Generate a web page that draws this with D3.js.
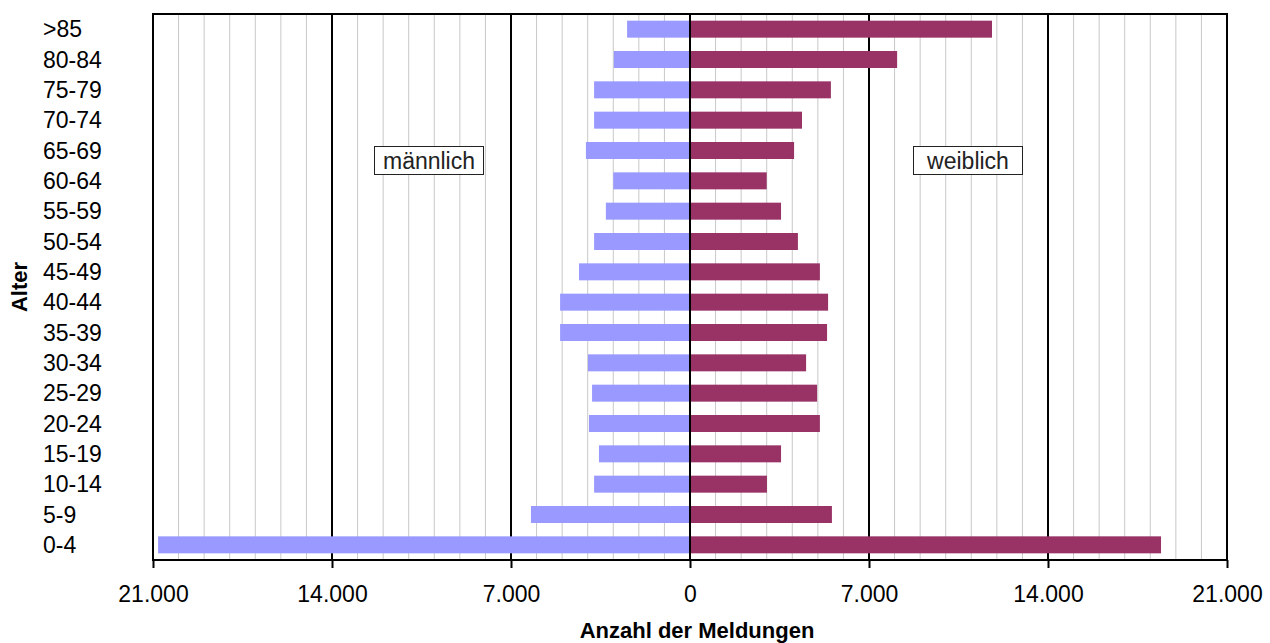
<!DOCTYPE html>
<html><head><meta charset="utf-8">
<script src="https://cdn.jsdelivr.net/npm/d3@7"></script>
<style>body{margin:0;background:#fff}svg{display:block}text{font-family:"Liberation Sans",Arial,sans-serif}</style>
</head><body><svg id="c" width="1270" height="643"></svg>
<script>
const categories = [">85","80-84","75-79","70-74","65-69","60-64","55-59","50-54","45-49","40-44","35-39","30-34","25-29","20-24","15-19","10-14","5-9","0-4"];
const maleValues   = [2460,2980,3750,3750,4070,3000,3290,3750,4340,5080,5080,3990,3830,3950,3560,3750,6220,20800];
const femaleValues = [11810,8100,5510,4380,4070,3000,3560,4220,5080,5400,5360,4540,4970,5080,3560,3010,5550,18420];
const tickValues = [-21000,-14000,-7000,0,7000,14000,21000];
const tickLabels = ["21.000","14.000","7.000","0","7.000","14.000","21.000"];
const seriesLabels = ["männlich","weiblich"];

const svg = d3.select("#c");
const L=153,R=1227,T=14,B=560;
const x = d3.scaleLinear().domain([-21000,21000]).range([L,R]);
const y = d3.scaleBand().domain(categories).range([T,B]).paddingInner(0.44).paddingOuter(0.22);

// minor grid
svg.append("g").selectAll("line").data(d3.range(-20000,21000,1000).filter(v=>v%7000!==0)).join("line")
  .attr("x1",d=>x(d)).attr("x2",d=>x(d)).attr("y1",T).attr("y2",B)
  .attr("stroke","#c8c8c8").attr("stroke-width",1);
// major grid
svg.append("g").selectAll("line").data([-14000,-7000,7000,14000]).join("line")
  .attr("x1",d=>x(d)).attr("x2",d=>x(d)).attr("y1",T).attr("y2",B)
  .attr("stroke","#000").attr("stroke-width",2);

// bars
svg.append("g").selectAll("rect").data(categories).join("rect")
  .attr("x",(d,i)=>x(-maleValues[i])).attr("width",(d,i)=>x(0)-x(-maleValues[i]))
  .attr("y",d=>y(d)).attr("height",y.bandwidth()).attr("fill","#9999ff");
svg.append("g").selectAll("rect").data(categories).join("rect")
  .attr("x",x(0)).attr("width",(d,i)=>x(femaleValues[i])-x(0))
  .attr("y",d=>y(d)).attr("height",y.bandwidth()).attr("fill","#993366");

// center line
svg.append("line").attr("x1",x(0)).attr("x2",x(0)).attr("y1",T).attr("y2",B).attr("stroke","#000").attr("stroke-width",2);

// frame
svg.append("rect").attr("x",L).attr("y",T).attr("width",R-L).attr("height",B-T)
  .attr("fill","none").attr("stroke","#000").attr("stroke-width",2);

// x axis
const xAxis = d3.axisBottom(x).tickValues(tickValues).tickSize(8).tickFormat((d,i)=>tickLabels[i]);
const gx = svg.append("g").attr("transform",`translate(0,${B})`).call(xAxis);
gx.select(".domain").remove();
gx.selectAll(".tick line").attr("stroke","#000").attr("stroke-width",2);
gx.selectAll(".tick text").attr("font-size",23).attr("fill","#000").attr("y",42).attr("dy","0")
  .attr("font-family","Liberation Sans, Arial, sans-serif");

// y labels (left aligned)
svg.append("g").selectAll("text").data(categories).join("text")
  .attr("x",43).attr("y",d=>y(d)+y.bandwidth()/2).attr("dy","0.36em")
  .attr("font-size",23).attr("fill","#000").text(d=>d);

// axis titles
svg.append("text").attr("x",697).attr("y",638).attr("text-anchor","middle")
  .attr("font-size",22).attr("font-weight","bold").text("Anzahl der Meldungen");
svg.append("text").attr("transform","translate(27,287) rotate(-90)").attr("text-anchor","middle")
  .attr("font-size",22).attr("font-weight","bold").text("Alter");

// annotation boxes
const boxes=[{cx:429,label:seriesLabels[0]},{cx:968,label:seriesLabels[1]}];
boxes.forEach(b=>{
  svg.append("rect").attr("x",b.cx-54.5).attr("y",146.5).attr("width",109).attr("height",28)
    .attr("fill","#fff").attr("stroke","#222").attr("stroke-width",1);
  svg.append("text").attr("x",b.cx).attr("y",160.5).attr("dy","0.36em").attr("text-anchor","middle")
    .attr("font-size",23).attr("fill","#222").text(b.label);
});
</script></body></html>
